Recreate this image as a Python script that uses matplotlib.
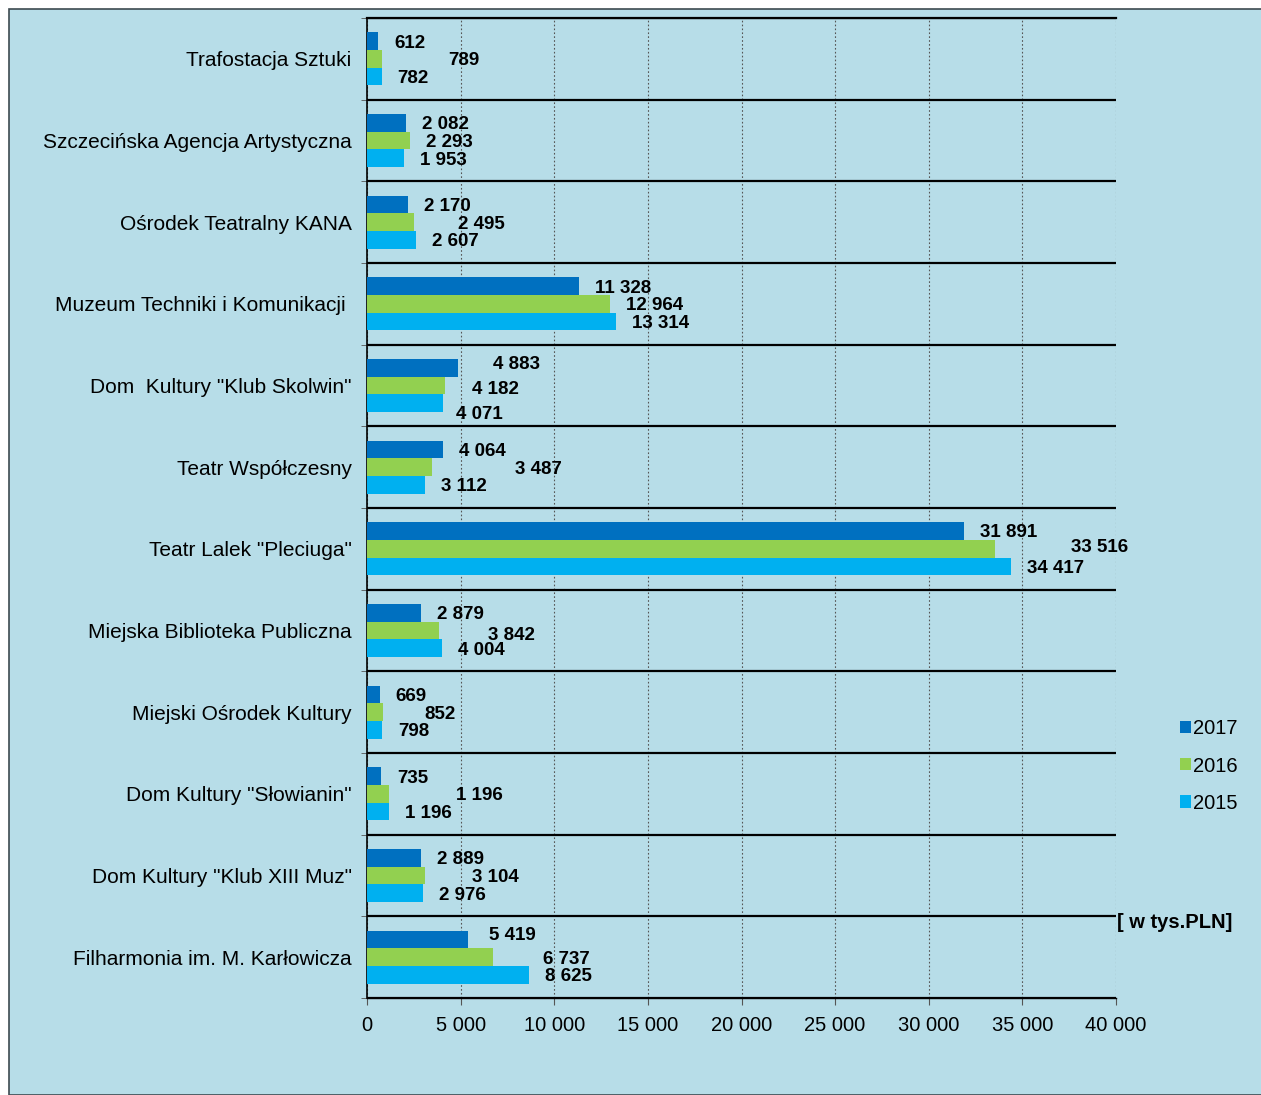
import matplotlib.pyplot as plt
from matplotlib.patches import Rectangle
from matplotlib.ticker import FuncFormatter, MultipleLocator

plt.rcParams['font.family'] = ['Liberation Sans', 'DejaVu Sans']

categories = [
    'Trafostacja Sztuki',
    'Szczecińska Agencja Artystyczna',
    'Ośrodek Teatralny KANA',
    'Muzeum Techniki i Komunikacji ',
    'Dom  Kultury "Klub Skolwin"',
    'Teatr Współczesny',
    'Teatr Lalek "Pleciuga"',
    'Miejska Biblioteka Publiczna',
    'Miejski Ośrodek Kultury',
    'Dom Kultury "Słowianin"',
    'Dom Kultury "Klub XIII Muz"',
    'Filharmonia im. M. Karłowicza',
]
years = ['2017', '2016', '2015']
v2017 = [612, 2082, 2170, 11328, 4883, 4064, 31891, 2879, 669, 735, 2889, 5419]
v2016 = [789, 2293, 2495, 12964, 4182, 3487, 33516, 3842, 852, 1196, 3104, 6737]
v2015 = [782, 1953, 2607, 13314, 4071, 3112, 34417, 4004, 798, 1196, 2976, 8625]

colors = ['#0070c0', '#92d050', '#00b0f0']
bg = '#b7dde8'

# extra nudges for the hand placed data labels (pixels: dx, dy)
nudge = {
    (0, 1): (50, 0), (2, 1): (28, 0),
    (4, 0): (19, 5), (4, 1): (11, -2), (4, 2): (-3, -9),
    (5, 1): (67, 0), (6, 0): (0, 1), (6, 1): (60, 3),
    (7, 1): (33, -3), (8, 1): (25, 0), (9, 1): (51, 0),
    (10, 1): (31, 0), (11, 0): (5, 6), (11, 1): (34, 0),
}

fs = 14.5

fig = plt.figure(figsize=(12.61, 10.95), dpi=100, facecolor='white')
fig.patches.append(Rectangle((9 / 1261, 0), 1, 1 - 9 / 1095, transform=fig.transFigure,
                             facecolor=bg, edgecolor='#3d4a50', linewidth=1.2, zorder=-5))

ax = fig.add_axes([367 / 1261, 1 - 998 / 1095, 749 / 1261, 980 / 1095])
ax.set_facecolor(bg)

h = 0.2166
pos = list(range(len(categories)))
series = [v2017, v2016, v2015]
bars = []
for k, vals in enumerate(series):
    ys = [p + (k - 1) * h for p in pos]
    b = ax.barh(ys, vals, height=h, color=colors[k], label=years[k], zorder=3)
    bars.append(b)
    for i, v in enumerate(vals):
        dx, dy = nudge.get((i, k), (0, 0))
        ax.annotate(f'{v:,}'.replace(',', ' '), (v, ys[i]), xytext=(16 + dx, dy),
                    textcoords='offset pixels', ha='left', va='center_baseline',
                    fontsize=13.5, fontweight='bold', zorder=4)

ax.set_xlim(0, 40000)
ax.set_ylim(len(categories) - 0.5, -0.5)
ax.xaxis.set_major_locator(MultipleLocator(5000))
ax.xaxis.set_major_formatter(FuncFormatter(lambda x, p: f'{int(x):,}'.replace(',', ' ')))
ax.set_yticks(pos)
ax.set_yticklabels(categories)
ax.set_yticks([p + 0.5 for p in range(-1, len(categories))], minor=True)

ax.tick_params(axis='x', labelsize=fs, length=5, color='#555555', pad=8)
ax.tick_params(axis='y', which='major', labelsize=15, length=0, pad=11)
ax.tick_params(axis='y', which='minor', length=4, color='#555555')

ax.grid(axis='x', which='major', linestyle=(0, (1.5, 2)), color='#555555', linewidth=0.8, zorder=1)
ax.grid(axis='y', which='minor', linestyle='-', color='black', linewidth=1.6, zorder=2)

ax.spines['right'].set_visible(False)
for s in ['top', 'left', 'bottom']:
    ax.spines[s].set_color('black')
ax.spines['top'].set_linewidth(1.6)
ax.spines['left'].set_linewidth(1.2)
ax.spines['bottom'].set_linewidth(1.0)

fig.text(1117 / 1261, 1 - 922 / 1095, '[ w tys.PLN]', fontsize=fs, fontweight='bold',
         ha='left', va='center')

fig.legend(handles=bars, labels=years, loc='center left',
           bbox_to_anchor=(1170 / 1261, 1 - 766 / 1095), frameon=False,
           fontsize=fs, handlelength=0.55, handleheight=0.55, handletextpad=0.1,
           labelspacing=0.9, borderpad=0)

fig.savefig('out.png', dpi=100, facecolor='white')
